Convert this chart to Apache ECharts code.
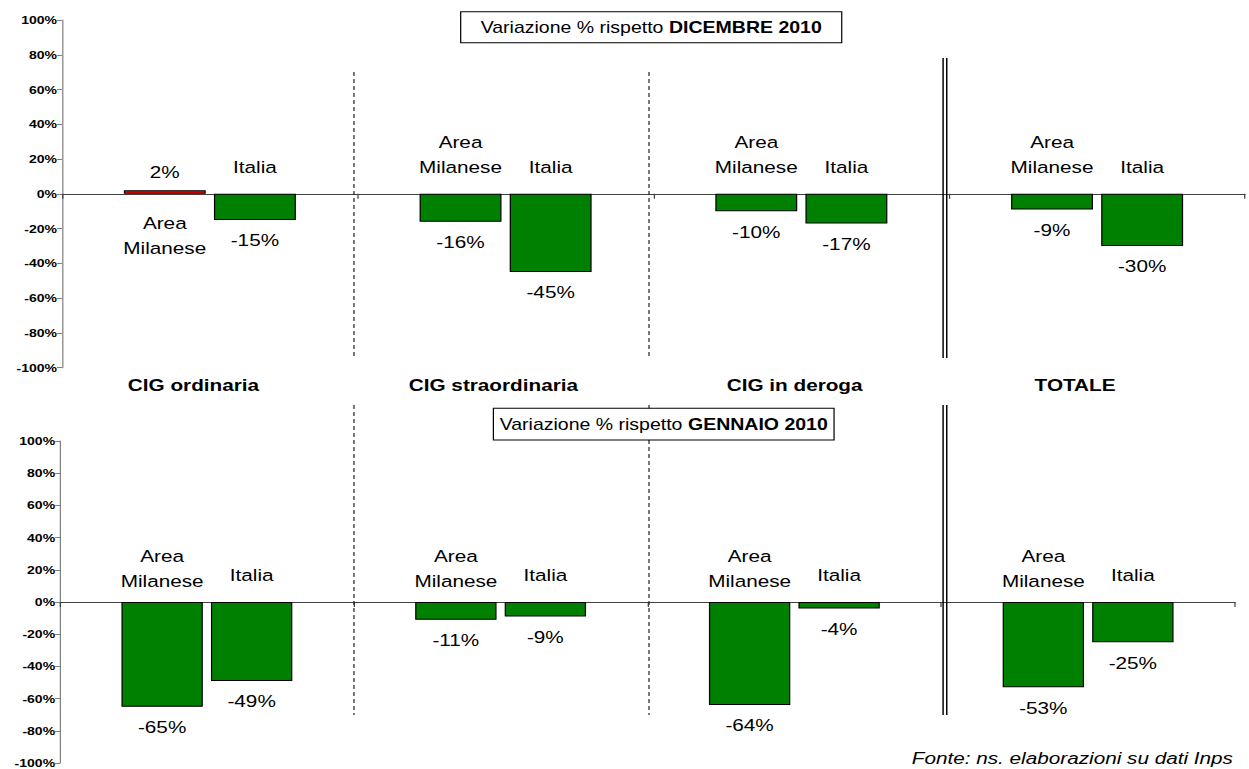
<!DOCTYPE html>
<html>
<head>
<meta charset="utf-8">
<script src="https://cdn.jsdelivr.net/npm/echarts@6/dist/echarts.min.js"></script>
<style>
html,body{margin:0;padding:0;background:#fff;overflow:hidden;width:1249px;height:769px;}
#c{width:1024px;height:769px;transform:scaleX(1.2197265625);transform-origin:0 0;}
</style>
</head>
<body>
<div id="c"></div>
<script>
// ---- data ----
const categories = ['CIG ordinaria', 'CIG straordinaria', 'CIG in deroga', 'TOTALE'];
const seriesNames = ['Area Milanese', 'Italia'];
const panelTitles = ['DICEMBRE 2010', 'GENNAIO 2010'];
const titlePrefix = 'Variazione % rispetto ';
const dicAreaMilanese = [2, -16, -10, -9];
const dicItalia = [-15, -45, -17, -30];
const genAreaMilanese = [-65, -11, -64, -53];
const genItalia = [-49, -9, -4, -25];
const yMin = -100, yMax = 100, yInterval = 20;
const sourceText = 'Fonte: ns. elaborazioni su dati Inps';

// ---- layout (1024-wide design space, stretched horizontally to 1249) ----
const FONT = "'Liberation Sans', Arial, sans-serif";
const grids = [
  {left: 50.8, right: 3.3, top: 20, height: 347.7},
  {left: 49.2, right: 11.5, top: 441, height: 324}
];
const nameDist = [[14, 14], [8, 14]];
const GREEN = '#008000', RED = '#FF0000';

const chart = echarts.init(document.getElementById('c'), null, {renderer: 'svg', width: 1024, height: 769});

const xAxes = [], yAxes = [], series = [];
const panelData = [[dicAreaMilanese, dicItalia], [genAreaMilanese, genItalia]];

grids.forEach((g, gi) => {
  xAxes.push({
    type: 'category', data: categories, gridIndex: gi,
    axisLine: {show: true, onZero: true, lineStyle: {color: '#404040', width: 1}},
    axisTick: {show: true, length: 5, lineStyle: {color: '#404040'}},
    axisLabel: {show: false}, splitLine: {show: false}
  });
  xAxes.push({type: 'category', data: categories, gridIndex: gi, show: false, position: 'bottom'});
  yAxes.push({
    type: 'value', gridIndex: gi, min: yMin, max: yMax, interval: yInterval,
    axisLine: {show: true, onZero: false, lineStyle: {color: '#808080', width: 1}},
    axisTick: {show: true, length: 4, lineStyle: {color: '#808080'}},
    splitLine: {show: false},
    axisLabel: {formatter: '{value}%', fontFamily: FONT, fontWeight: 'bold', fontSize: 11.5, color: '#000', margin: 4}
  });
  panelData[gi].forEach((arr, si) => {
    series.push({
      type: 'bar', name: seriesNames[si], xAxisIndex: gi * 2, yAxisIndex: gi,
      barWidth: '27.7%', barGap: '10%',
      silent: true,
      data: arr.map(v => ({
        value: v,
        itemStyle: {color: v >= 0 ? RED : GREEN},
        label: {position: v >= 0 ? 'top' : 'bottom', distance: v >= 0 ? 10 : 12}
      })),
      itemStyle: {borderColor: '#000', borderWidth: 1},
      label: {show: true, formatter: p => p.value + '%', fontFamily: FONT, fontSize: 17, color: '#000'}
    });
  });
  panelData[gi].forEach((arr, si) => {
    series.push({
      type: 'bar', name: seriesNames[si] + ' ', xAxisIndex: gi * 2 + 1, yAxisIndex: gi,
      barWidth: '27.7%', barGap: '10%',
      silent: true,
      data: arr.map(v => ({
        value: v,
        label: {position: v >= 0 ? 'bottom' : 'top', distance: v >= 0 ? 17 : nameDist[gi][si]}
      })),
      itemStyle: {color: 'rgba(0,0,0,0)', borderWidth: 0},
      label: {show: true, formatter: () => seriesNames[si].replace(' ', '\n'),
        fontFamily: FONT, fontSize: 17, lineHeight: 25, color: '#000', align: 'center'}
    });
  });
});

// decorations
const catLabelX = [158.6, 404.5, 651.5, 881.4];
const graphics = [];
const dashX = [290.2, 532.1];
const dblX = [773.2, 776.2];
const sepY = [[72, 357, 58, 358], [405, 715, 405, 715]];
sepY.forEach(r => {
  dashX.forEach(x => graphics.push({type: 'line', z: 50, shape: {x1: x, y1: r[0], x2: x, y2: r[1]},
    style: {stroke: '#222', lineWidth: 1, lineDash: [4, 3]}}));
  dblX.forEach(x => graphics.push({type: 'line', z: 50, shape: {x1: x, y1: r[2], x2: x, y2: r[3]},
    style: {stroke: '#000', lineWidth: 1.2}}));
});
const boxes = [
  {x: 377.7, y: 11.7, w: 312.4, h: 31},
  {x: 404.5, y: 408.3, w: 279.3, h: 31.7}
];
boxes.forEach((b, i) => {
  graphics.push({type: 'rect', z: 60, shape: {x: b.x, y: b.y, width: b.w, height: b.h},
    style: {fill: '#fff', stroke: '#000', lineWidth: 1}});
  graphics.push({type: 'text', z: 61, x: b.x + b.w / 2, y: b.y + b.h / 2,
    style: {text: '{n|' + titlePrefix + '}{b|' + panelTitles[i] + '}', align: 'center', verticalAlign: 'middle',
      rich: {n: {fontFamily: FONT, fontSize: 16, color: '#000'},
             b: {fontFamily: FONT, fontSize: 16, fontWeight: 'bold', color: '#000'}}}});
});
categories.forEach((c, i) => {
  graphics.push({type: 'text', z: 61, x: catLabelX[i], y: 385,
    style: {text: c, align: 'center', verticalAlign: 'middle', fontFamily: FONT, fontSize: 17, fontWeight: 'bold', fill: '#000'}});
});
graphics.push({type: 'text', z: 61, x: 747.5, y: 767,
  style: {text: sourceText, align: 'left', verticalAlign: 'bottom', fontFamily: FONT, fontSize: 17, fontStyle: 'italic', fill: '#000'}});

chart.setOption({
  animation: false,
  backgroundColor: '#fff',
  grid: grids.map(g => Object.assign({containLabel: false}, g)),
  xAxis: xAxes,
  yAxis: yAxes,
  series: series,
  graphic: graphics
});
</script>
</body>
</html>
